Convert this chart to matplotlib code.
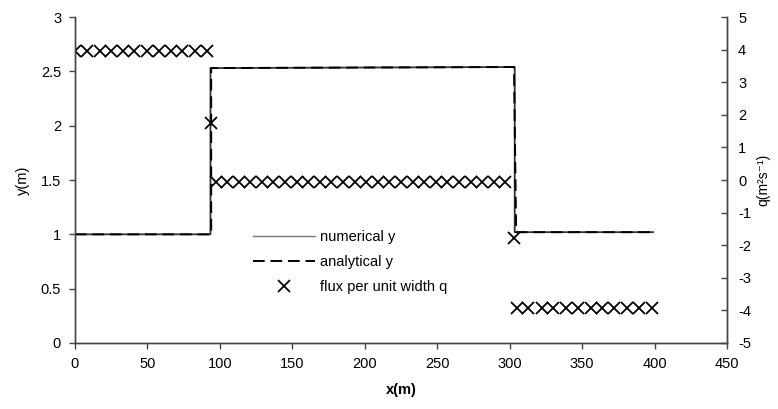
import matplotlib
matplotlib.use("Agg")
import matplotlib.pyplot as plt

plt.rcParams['font.family'] = ['Liberation Sans', 'DejaVu Sans']

# Water depth profiles (x in m, y in m)
num_x = [0, 93.5, 93.5, 303.5, 303.5, 399]
num_y = [1.0, 1.0, 2.53, 2.54, 1.02, 1.02]
ana_x = [0, 94, 94, 303, 304.5, 399]
ana_y = [1.0, 1.0, 2.53, 2.54, 1.02, 1.02]

# Flux per unit width q (m^2/s) at cell faces
q_x = [0, 8, 17, 25, 33, 41, 50, 58, 66, 74, 83, 91,
       94,
       97, 105, 113, 121, 129, 137, 145, 153, 161, 169, 177, 185, 193,
       201, 209, 217, 225, 233, 241, 249, 257, 265, 273, 281, 289, 297,
       303,
       305, 313, 322, 330, 339, 347, 356, 364, 372, 381, 389, 398]
q_v = [3.95, 3.95, 3.95, 3.95, 3.95, 3.95, 3.95, 3.95, 3.95, 3.95, 3.95, 3.95,
       1.75,
       -0.05, -0.05, -0.05, -0.05, -0.05, -0.05, -0.05, -0.05, -0.05, -0.05, -0.05, -0.05, -0.05,
       -0.05, -0.05, -0.05, -0.05, -0.05, -0.05, -0.05, -0.05, -0.05, -0.05, -0.05, -0.05, -0.05,
       -1.78,
       -3.93, -3.93, -3.93, -3.93, -3.93, -3.93, -3.93, -3.93, -3.93, -3.93, -3.93, -3.93]

x_ticks = [0, 50, 100, 150, 200, 250, 300, 350, 400, 450]
y_ticks = [0, 0.5, 1, 1.5, 2, 2.5, 3]
y_tick_labels = ['0', '0.5', '1', '1.5', '2', '2.5', '3']
q_ticks = [-5, -4, -3, -2, -1, 0, 1, 2, 3, 4, 5]

fig = plt.figure(figsize=(7.78, 4.09), dpi=100)
ax = fig.add_axes([0.0964, 0.1614, 0.838, 0.797])
ax2 = ax.twinx()

l1, = ax.plot(num_x, num_y, color='#333333', lw=1.3, label='numerical y')
l2, = ax.plot(ana_x, ana_y, color='black', lw=1.4, ls=(0, (6, 3)), label='analytical y')
l3, = ax2.plot(q_x, q_v, ls='none', marker='x', ms=8, mew=1.3, color='black',
               label='flux per unit width q')

ax.set_xlim(0, 450)
ax.set_ylim(0, 3)
ax2.set_ylim(-5, 5)
ax.set_xticks(x_ticks)
ax.set_xticklabels([str(v) for v in x_ticks])
ax.set_yticks(y_ticks)
ax.set_yticklabels(y_tick_labels)
ax2.set_yticks(q_ticks)
ax2.set_yticklabels([str(v) for v in q_ticks])

for a in (ax, ax2):
    a.spines['top'].set_visible(False)
    for s in a.spines.values():
        s.set_color('#444444')
        s.set_linewidth(1.0)

ax.tick_params(axis='both', direction='out', length=4, width=1, color='#444444',
               labelsize=10.5, pad=6)
ax2.tick_params(axis='y', direction='in', length=4, width=1, color='#444444',
                labelsize=10.5, pad=8)

ax.set_xlabel('x(m)', fontsize=10.5, fontweight='bold', labelpad=9)
ax.set_ylabel('y(m)', fontsize=10.5, labelpad=8)
ax2.set_ylabel('q(m\u00b2s\u207b\u00b9)', fontsize=10, rotation=90, labelpad=4)

leg = fig.legend([l1, l2, l3], ['numerical y', 'analytical y', 'flux per unit width q'],
                 loc='upper left', bbox_to_anchor=(0.308, 0.47), frameon=False,
                 fontsize=10.5, handlelength=4.3, handletextpad=0.3, labelspacing=0.75)
leg.get_lines()[0].set_color('#777777')
leg.get_lines()[0].set_linewidth(1.0)

fig.savefig('out.png', dpi=100)
